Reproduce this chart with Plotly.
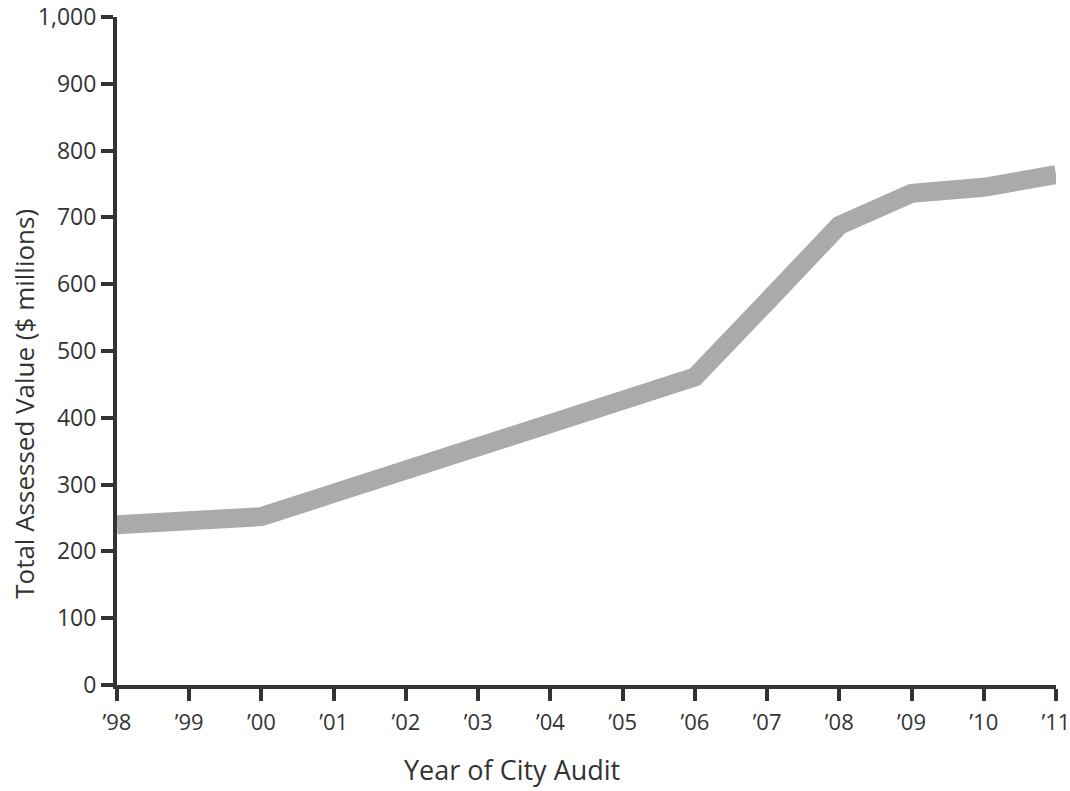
import plotly.graph_objects as go

years = [1998, 1999, 2000, 2001, 2002, 2003, 2004, 2005, 2006, 2007, 2008, 2009, 2010, 2011]
values = [240, 245, 252, 287, 322, 356, 391, 426, 461, 574, 688, 736, 745, 764]
x_ticklabels = ["’98", "’99", "’00", "’01", "’02", "’03", "’04", "’05", "’06", "’07", "’08", "’09", "’10", "’11"]
y_tickvals = [0, 100, 200, 300, 400, 500, 600, 700, 800, 900, 1000]

FONT = "Open Sans"
DARK = "#333333"

fig = go.Figure()
fig.add_trace(go.Scatter(
    x=years, y=values, mode="lines",
    line=dict(color="#aaaaaa", width=19),
    showlegend=False, hoverinfo="skip",
))

fig.update_layout(
    width=1070, height=791,
    margin=dict(l=117, r=14, t=17, b=106, autoexpand=False),
    paper_bgcolor="white", plot_bgcolor="white",
    font=dict(family=FONT, color=DARK),
    xaxis=dict(
        range=[1998, 2011], tickvals=years, ticktext=x_ticklabels,
        showgrid=False, zeroline=False, automargin=False,
        showline=True, linecolor=DARK, linewidth=4,
        ticks="outside", ticklen=12, tickwidth=4, tickcolor=DARK,
        ticklabeloverflow="allow", ticklabelstandoff=3,
        tickfont=dict(size=22, color=DARK, family=FONT),
    ),
    yaxis=dict(
        range=[0, 1000], tickvals=y_tickvals, tickformat=",",
        showgrid=False, zeroline=False, automargin=False,
        showline=True, linecolor=DARK, linewidth=4,
        ticks="outside", ticklen=12, tickwidth=4, tickcolor=DARK,
        ticklabeloverflow="allow",
        tickfont=dict(size=23, color=DARK, family=FONT),
    ),
    annotations=[
        dict(
            text="Year of City Audit", xref="paper", yref="paper",
            x=0.421, y=-0.126, xanchor="center", yanchor="middle", showarrow=False,
            font=dict(size=27, color=DARK, family=FONT),
        ),
        dict(
            text="Total Assessed Value ($ millions)", xref="paper", yref="paper",
            x=-0.099, y=0.421, xanchor="center", yanchor="middle", showarrow=False,
            textangle=-90,
            font=dict(size=26, color=DARK, family=FONT),
        ),
    ],
)

fig.write_html(
    "out.html",
    config={"displayModeBar": False, "staticPlot": True},
    post_script="document.body.style.margin='0';document.body.style.overflow='hidden';",
)
